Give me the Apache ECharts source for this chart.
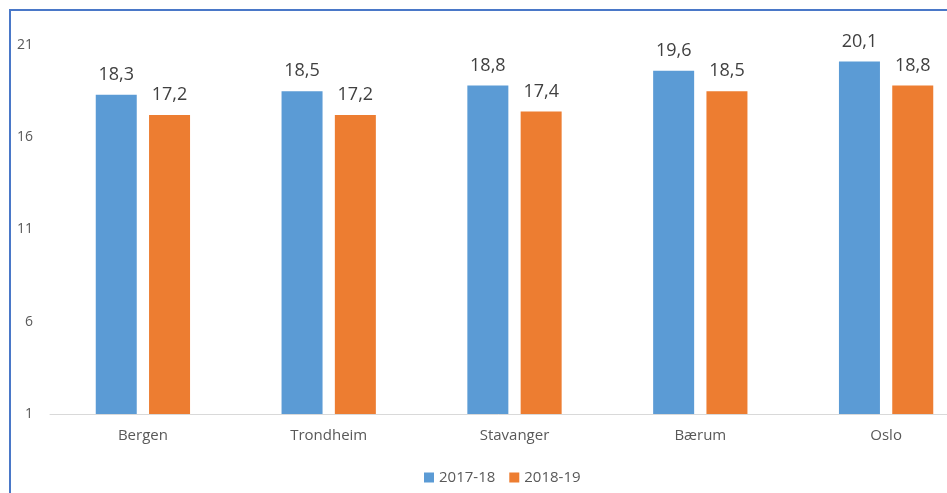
<!DOCTYPE html>
<html>
<head>
<meta charset="utf-8">
<script src="https://cdn.jsdelivr.net/npm/echarts@6/dist/echarts.min.js"></script>
<style>
  html, body { margin: 0; padding: 0; background: #fff; overflow: hidden; }
  #frame {
    position: absolute; left: 9px; top: 9px; width: 1000px; height: 520px;
    border-left: 2px solid #4a78c8; border-top: 2px solid #4a78c8;
  }
  #chart { position: absolute; left: 0; top: 0; width: 947px; height: 493px; }
</style>
</head>
<body>
<div id="frame"></div>
<div id="chart"></div>
<script>
var cities = ["Bergen", "Trondheim", "Stavanger", "Bærum", "Oslo"];
var season1 = [18.3, 18.5, 18.8, 19.6, 20.1];
var season2 = [17.2, 17.2, 17.4, 18.5, 18.8];
var seriesNames = ["2017-18", "2018-19"];
var yTicks = { min: 1, max: 21, step: 5 };

var chart = echarts.init(document.getElementById("chart"));

function barSeries(name, data, color) {
  return {
    name: name,
    type: "bar",
    barWidth: 41,
    barGap: "30%",
    itemStyle: { color: color },
    label: {
      show: true,
      position: "top",
      distance: 11,
      color: "#404040",
      fontSize: 18,
      fontFamily: "Open Sans",
      formatter: function (p) { return String(p.value.toFixed(1)).replace(".", ","); }
    },
    data: data
  };
}

var option = {
  animation: false,
  textStyle: { fontFamily: "Open Sans" },
  grid: {
    left: 50, top: 45, width: 929, bottom: 79,
    containLabel: false, outerBoundsMode: "none"
  },
  legend: {
    data: seriesNames,
    bottom: 3,
    left: 419,
    itemWidth: 10,
    itemHeight: 10,
    itemGap: 14,
    icon: "rect",
    textStyle: { color: "#595959", fontSize: 15 }
  },
  xAxis: {
    type: "category",
    data: cities,
    axisTick: { show: false },
    axisLine: { lineStyle: { color: "#d9d9d9", width: 1 } },
    axisLabel: { color: "#595959", fontSize: 15, margin: 14 }
  },
  yAxis: {
    type: "value",
    min: yTicks.min,
    max: yTicks.max,
    interval: yTicks.step,
    splitLine: { show: false },
    axisLine: { show: false },
    axisTick: { show: false },
    axisLabel: { color: "#595959", fontSize: 14, margin: 17 }
  },
  series: [
    barSeries(seriesNames[0], season1, "#5b9bd5"),
    barSeries(seriesNames[1], season2, "#ed7d31")
  ]
};

chart.setOption(option);
</script>
</body>
</html>
